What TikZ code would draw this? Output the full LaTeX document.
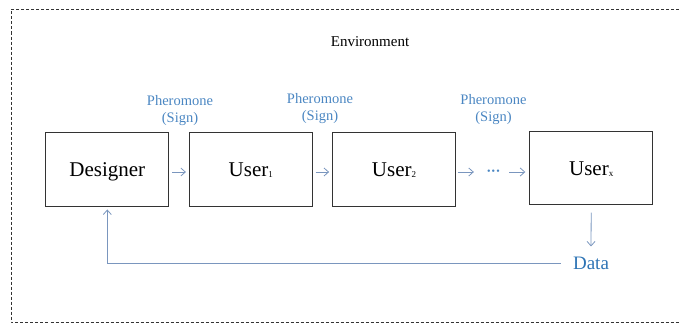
\documentclass[tikz,border=0pt]{standalone}
\usepackage{fontspec}
\setmainfont{Liberation Serif}
\usetikzlibrary{arrows.meta}
\definecolor{txtblue}{HTML}{2E74B5}
\definecolor{lblblue}{HTML}{4A86C2}
\definecolor{arrblue}{HTML}{7A96BE}
\definecolor{frame}{HTML}{333333}
\begin{document}
\begin{tikzpicture}[x=1pt,y=-1pt,
  box/.style={draw=black!80, line width=0.8pt, minimum width=123pt, minimum height=73.5pt, inner sep=0pt, text height=14.8pt, text depth=0pt, font=\fontsize{21}{24}\selectfont},
  lbl/.style={text=lblblue, font=\fontsize{14.5}{17}\selectfont, align=center, inner sep=0pt},
  conn/.style={draw=arrblue, line width=0.8pt, -{Straight Barb[length=4.5pt,width=8pt,line width=0.8pt]}},
]
\useasboundingbox (0,0) rectangle (679,324);
\draw[frame, line width=0.7pt, dash pattern=on 3pt off 2pt] (679,9.5) -- (11,9.5) -- (11,322) -- (679,322);
\node[font=\fontsize{15}{17}\selectfont, inner sep=0pt] (env) at (370,42) {Environment};
\node[box] (des) at (107.3,169.3) {Designer};
\node[box] (u1) at (250.8,169.3) {User\raisebox{-1pt}{\fontsize{9}{10}\selectfont 1}};
\node[box] (u2) at (394,169.3) {User\raisebox{-1pt}{\fontsize{9}{10}\selectfont 2}};
\node[box, minimum height=72.5pt] (ux) at (591.2,168) {User\raisebox{-1pt}{\fontsize{9}{10}\selectfont x}};
\node[lbl] (p1) at (180,111) {Pheromone\\(Sign)};
\node[lbl] (p2) at (320,109) {Pheromone\\(Sign)};
\node[lbl] (p3) at (493.5,110) {Pheromone\\(Sign)};
\node[text=lblblue, font=\fontsize{10}{10}\selectfont, inner sep=0pt] (dots) at (493.5,172) {\textbullet\hspace{1.2pt}\textbullet\hspace{1.2pt}\textbullet};
\node[text=txtblue, font=\fontsize{19}{22}\selectfont, inner sep=0pt] (data) at (591,263) {Data};
\coordinate (a1s) at ([xshift=3pt]des.east);
\coordinate (a1e) at ([xshift=-3pt]u1.west);
\draw[conn] (a1s |- 0,172) -- (a1e |- 0,172);
\coordinate (a2s) at ([xshift=3pt]u1.east);
\coordinate (a2e) at ([xshift=-3pt]u2.west);
\draw[conn] (a2s |- 0,172) -- (a2e |- 0,172);
\coordinate (a3s) at ([xshift=2pt]u2.east);
\draw[conn] (a3s |- 0,172) -- ([xshift=-13pt]dots.west |- 0,172);
\coordinate (a4e) at ([xshift=-4pt]ux.west);
\draw[conn] ([xshift=9pt]dots.east |- 0,172) -- (a4e |- 0,172);
\draw[conn] ([yshift=-8pt]ux.south) -- ([yshift=10pt]data.north);
\coordinate (fbr) at ([xshift=-12pt]data.west);
\draw[conn] (fbr) -- (des.south |- fbr) -- ([yshift=-3pt]des.south);
\end{tikzpicture}
\end{document}
